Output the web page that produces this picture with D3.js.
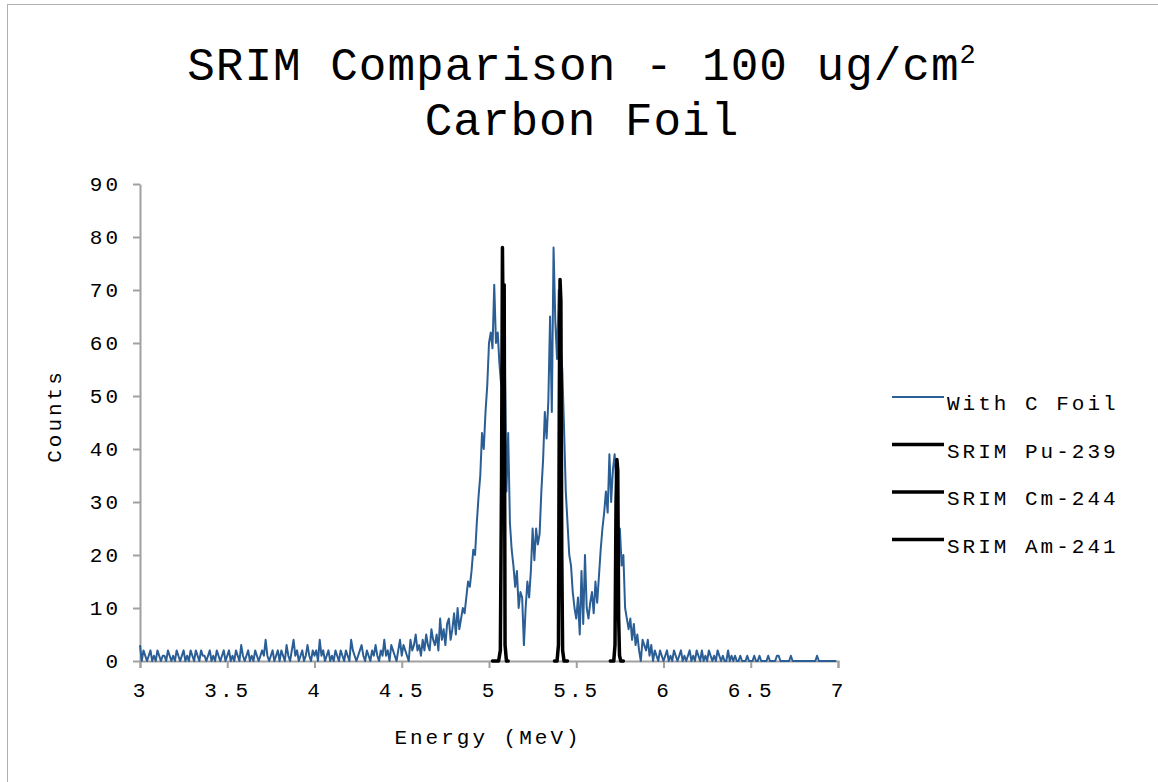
<!DOCTYPE html>
<html>
<head>
<meta charset="utf-8">
<script src="https://cdn.jsdelivr.net/npm/d3@7"></script>
<style>
  body { margin: 0; background: #fff; }
  text { font-family: "Liberation Mono", "DejaVu Sans Mono", monospace; fill: #000; }
  .axis path, .axis line { stroke: #a0a0a0; stroke-width: 2; }
</style>
</head>
<body>
<div id="viz"></div>
<script>
/* ===== Data ===== */
// measured spectrum, 0.01 MeV bins starting at 3.00 MeV (one row per 0.1 MeV)
const foilStart = 3.0;
const foilStep = 0.01;
const foilCounts = [
  3,0,2,1,0,1,2,0,1,0,
  2,1,0,1,1,0,2,1,0,1,
  0,2,1,0,1,2,0,1,0,2,
  1,0,2,1,0,2,1,1,0,1,
  2,0,1,0,2,1,0,1,2,0,
  1,2,0,1,0,2,1,0,3,1,
  0,1,2,0,1,0,2,1,0,1,
  2,1,4,1,0,1,2,0,1,2,
  0,2,1,0,3,1,0,2,4,1,
  2,0,1,2,0,1,3,1,0,2,
  1,2,0,4,1,2,0,1,2,0,
  1,0,2,1,0,2,1,0,2,1,
  0,4,2,1,0,1,2,3,1,0,
  2,1,0,2,1,3,1,0,2,1,
  4,1,2,0,3,2,1,0,2,4,
  1,3,2,1,0,4,2,3,5,2,
  3,1,4,2,5,3,2,6,4,3,
  5,2,8,4,6,3,7,8,4,6,
  9,5,10,6,8,10,9,12,15,14,
  17,21,20,26,31,35,43,40,47,52,
  60,62,59,71,60,62,56,52,58,59,
  32,43,26,21,18,14,17,10,13,12,
  3,10,15,12,17,25,19,25,22,24,
  32,38,47,42,49,65,47,78,64,57,
  70,59,55,44,32,26,20,18,13,10,
  8,12,5,17,7,20,10,8,11,13,
  9,15,11,16,21,25,28,32,28,39,
  30,36,39,33,20,25,18,20,10,8,
  6,8,4,7,3,5,2,0,4,3,
  2,4,1,3,0,2,1,0,2,1,
  0,1,2,0,1,0,2,1,0,1,
  2,0,1,0,1,2,0,1,0,2,
  1,0,2,0,1,0,2,1,0,1,
  0,2,1,0,1,0,0,2,0,1,
  0,1,0,0,1,0,0,0,1,0,
  0,0,1,0,0,1,0,0,0,0,
  1,0,0,0,0,1,1,0,0,0,
  0,0,0,1,0,0,0,0,0,0,
  0,0,0,0,0,0,0,0,1,0,
  0,0,0,0,0,0,0,0,0,0
];

// SRIM simulated peaks
const puEnergy = [5.02, 5.055, 5.065, 5.072, 5.077, 5.082, 5.087, 5.092, 5.10, 5.11];
const puCounts = [0, 0, 2, 35, 78, 60, 71, 3, 0, 0];
const cmEnergy = [5.375, 5.39, 5.398, 5.403, 5.407, 5.412, 5.417, 5.422, 5.43, 5.45];
const cmCounts = [0, 0, 3, 50, 72, 68, 20, 2, 0, 0];
const amEnergy = [5.695, 5.715, 5.722, 5.728, 5.733, 5.738, 5.743, 5.748, 5.755, 5.77];
const amCounts = [0, 0, 3, 30, 38, 36, 8, 1, 0, 0];

const xTicks = [3, 3.5, 4, 4.5, 5, 5.5, 6, 6.5, 7];
const yTicks = [0, 10, 20, 30, 40, 50, 60, 70, 80, 90];
const legendNames = ['With C Foil', 'SRIM Pu-239', 'SRIM Cm-244', 'SRIM Am-241'];

/* ===== Chart dimension ===== */
const width = 1158;
const height = 782;
const margin = { top: 184, right: 320, bottom: 121, left: 140 };
const blue = '#2b5e95';

const svg = d3.select('#viz')
  .append('svg')
  .attr('width', width)
  .attr('height', height);

// outer frame (only top/left visible in reference)
svg.append('rect')
  .attr('x', 7.5).attr('y', 4.5)
  .attr('width', width).attr('height', height)
  .attr('fill', 'none')
  .attr('stroke', '#b0b0b0');

const xScale = d3.scaleLinear()
  .domain([3, 7])
  .range([margin.left, width - margin.right]);

const yScale = d3.scaleLinear()
  .domain([0, 90])
  .range([height - margin.bottom, margin.top]);

/* ===== Title ===== */
const title = svg.append('text')
  .attr('x', 582).attr('y', 80)
  .attr('text-anchor', 'middle')
  .style('font-size', '46px')
  .style('letter-spacing', '1px');
title.append('tspan').text('SRIM Comparison - 100 ug/cm');
title.append('tspan').attr('dy', -17).style('font-size', '27px').text('2');
svg.append('text')
  .attr('x', 582).attr('y', 135)
  .attr('text-anchor', 'middle')
  .style('font-size', '46px')
  .style('letter-spacing', '1px')
  .text('Carbon Foil');

/* ===== Axes ===== */
const xAxis = d3.axisBottom(xScale)
  .tickValues(xTicks)
  .tickSize(7)
  .tickPadding(14)
  .tickFormat(d3.format('~g'));
svg.append('g')
  .attr('class', 'axis')
  .attr('transform', `translate(0, ${yScale(0)})`)
  .call(xAxis)
  .call(g => g.selectAll('text').style('font-size', '21px').style('letter-spacing', '3px'));

const yAxis = d3.axisLeft(yScale)
  .tickValues(yTicks)
  .tickSize(7)
  .tickPadding(12)
  .tickSizeOuter(0);
svg.append('g')
  .attr('class', 'axis')
  .attr('transform', `translate(${margin.left}, 0)`)
  .call(yAxis)
  .call(g => g.selectAll('text').style('font-size', '21px').style('letter-spacing', '3px'));

svg.append('text')
  .attr('x', 488).attr('y', 744)
  .attr('text-anchor', 'middle')
  .style('font-size', '21px')
  .style('letter-spacing', '3px')
  .text('Energy (MeV)');

svg.append('text')
  .attr('transform', 'translate(61, 416) rotate(-90)')
  .attr('text-anchor', 'middle')
  .style('font-size', '21px')
  .style('letter-spacing', '3px')
  .text('Counts');

/* ===== Lines ===== */
const foilData = foilCounts.map((c, i) => ({ e: foilStart + i * foilStep, c: c }));
const line = d3.line()
  .x(d => xScale(d.e))
  .y(d => yScale(d.c));

svg.append('path')
  .datum(foilData)
  .attr('fill', 'none')
  .attr('stroke', blue)
  .attr('stroke-width', 2)
  .attr('stroke-linejoin', 'round')
  .attr('d', line);

const srim = [
  [puEnergy, puCounts],
  [cmEnergy, cmCounts],
  [amEnergy, amCounts]
];
srim.forEach(function (s) {
  const data = s[0].map((e, i) => ({ e: e, c: s[1][i] }));
  svg.append('path')
    .datum(data)
    .attr('fill', 'none')
    .attr('stroke', '#000')
    .attr('stroke-width', 3.5)
    .attr('stroke-linejoin', 'round')
    .attr('stroke-linecap', 'round')
    .attr('d', line);
});

/* ===== Legend ===== */
const legend = svg.append('g').attr('transform', 'translate(892, 397)');
legendNames.forEach(function (name, i) {
  const y = i * 47.5;
  legend.append('line')
    .attr('x1', 0).attr('x2', 52)
    .attr('y1', y).attr('y2', y)
    .attr('stroke', i === 0 ? blue : '#000')
    .attr('stroke-width', i === 0 ? 2 : 3.5);
  legend.append('text')
    .attr('x', 55).attr('y', y + 13)
    .style('font-size', '21px')
    .style('letter-spacing', '3px')
    .text(name);
});
</script>
</body>
</html>
